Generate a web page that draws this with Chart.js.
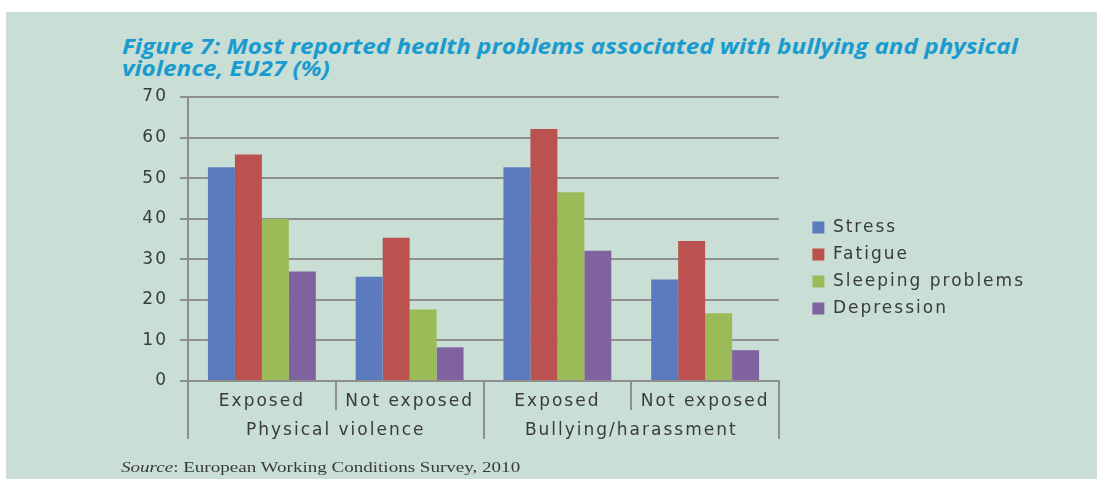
<!DOCTYPE html>
<html>
<head>
<meta charset="utf-8">
<script src="https://cdn.jsdelivr.net/npm/chart.js@4.4.1/dist/chart.umd.min.js"></script>
<style>
  body { margin: 0; background: #fff; }
  #panel { position: absolute; left: 6px; top: 12px; width: 1091px; height: 467px; background: #c9ded4; }
  #title { position: absolute; left: 122px; top: 35px; margin: 0; font: italic 700 21px "Open Sans", sans-serif; line-height: 22px; color: #1a9bcf; white-space: nowrap; transform: scaleX(1.155); transform-origin: 0 0; }
  #source { position: absolute; left: 121px; top: 460px; margin: 0; font: 14px "Liberation Serif", serif; color: #3a3a3a; white-space: nowrap; transform: scaleX(1.36); transform-origin: 0 0; }
  canvas { position: absolute; left: 0; top: 0; }
</style>
</head>
<body>
<div id="panel"></div>
<p id="title">Figure 7: Most reported health problems associated with bullying and physical<br>violence, EU27 (%)</p>
<canvas id="chart" width="1098" height="481"></canvas>
<p id="source"><i>Source</i>: European Working Conditions Survey, 2010</p>
<script>
const categories = ['Exposed', 'Not exposed', 'Exposed', 'Not exposed'];
const groups = ['Physical violence', 'Bullying/harassment'];

const stress = [52.7, 25.7, 52.7, 25.0];
const fatigue = [55.8, 35.3, 62.1, 34.5];
const sleeping = [39.9, 17.6, 46.5, 16.7];
const depression = [27.0, 8.3, 32.1, 7.6];

const yMax = 70;
const yStep = 10;

const gridGrey = '#8e908f';
const textGrey = '#3a3a3a';
const font = { family: 'DejaVu Sans', size: 17 };
const padRight = 63;
const plotRight = 779;

// the source picture is stretched sideways, so widen the text a bit
const spacing = {
    id: 'spacing',
    beforeInit(c) { c.ctx.letterSpacing = '2px'; },
    beforeUpdate(c) { c.ctx.letterSpacing = '2px'; },
    beforeDraw(c) { c.ctx.letterSpacing = '2px'; }
};

const ctx = document.getElementById('chart');

new Chart(ctx, {
    type: 'bar',
    data: {
        labels: categories,
        datasets: [
            { label: 'Stress', data: stress, backgroundColor: '#5b7bbe' },
            { label: 'Fatigue', data: fatigue, backgroundColor: '#bc5250' },
            { label: 'Sleeping problems', data: sleeping, backgroundColor: '#9bbb59' },
            { label: 'Depression', data: depression, backgroundColor: '#8062a1' }
        ]
    },
    options: {
        responsive: false,
        animation: false,
        layout: { padding: { left: 100, top: 97, right: padRight, bottom: 42 } },
        datasets: {
            bar: { categoryPercentage: 0.73, barPercentage: 1.0, borderWidth: 0 }
        },
        scales: {
            y: {
                min: 0,
                max: yMax,
                ticks: { stepSize: yStep, font: font, color: textGrey, padding: 12 },
                grid: { color: gridGrey, lineWidth: 2, tickLength: 8 },
                border: { color: gridGrey, width: 2 },
                afterFit(s) { s.width = 88; }
            },
            // empty spacer between plot and legend
            yR: {
                position: 'right',
                min: 0,
                max: yMax,
                grid: { display: false },
                border: { display: false },
                ticks: { display: false },
                afterFit(s) {
                    const lw = s.chart.legend ? s.chart.legend.width : 240;
                    s.width = Math.max(0, 1098 - padRight - lw - plotRight);
                }
            },
            x: {
                weight: 0,
                ticks: { font: font, color: textGrey, padding: -19, maxRotation: 0 },
                grid: { offset: true, drawOnChartArea: false, color: gridGrey, lineWidth: 2, tickLength: 29 },
                border: { color: gridGrey, width: 2 },
                afterFit(s) { s.height = 29; }
            },
            x2: {
                type: 'category',
                labels: groups,
                position: 'bottom',
                weight: 1,
                offset: true,
                ticks: { font: font, color: textGrey, padding: -19, maxRotation: 0 },
                grid: { offset: true, drawOnChartArea: false, color: gridGrey, lineWidth: 2, tickLength: 29 },
                border: { display: false },
                afterFit(s) { s.height = 29; }
            }
        },
        plugins: {
            legend: {
                position: 'right',
                maxWidth: 300,
                labels: { boxWidth: 12, boxHeight: 12, font: font, color: textGrey, padding: 10 }
            },
            tooltip: { enabled: false }
        }
    },
    plugins: [spacing]
});
</script>
</body>
</html>
